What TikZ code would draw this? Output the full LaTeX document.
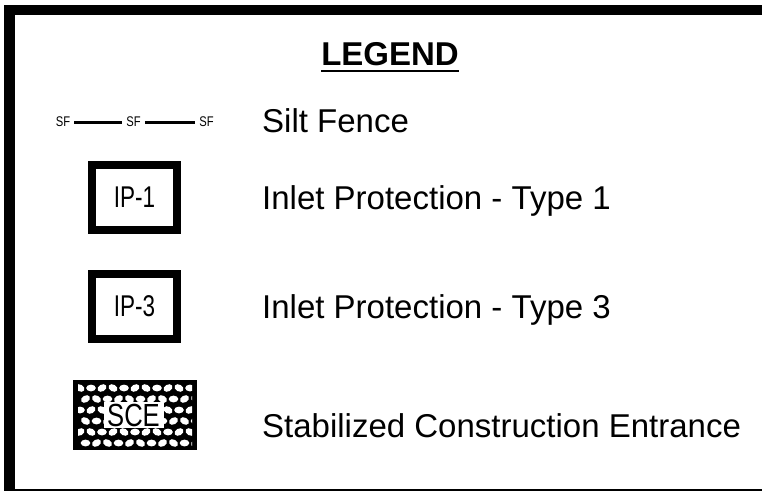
\documentclass[tikz,border=0pt]{standalone}
\usepackage{fontspec}
\setmainfont{Liberation Sans}
\usepackage{graphicx}

\begin{document}
\begin{tikzpicture}[x=1pt,y=-1pt,
  txt/.style={anchor=base west,inner sep=0pt,font=\fontsize{33}{40}\selectfont},
  sflbl/.style={inner sep=4pt,font=\fontsize{14}{16}\selectfont},
  fence/.style={line width=3pt},
  ipbox/.style={rectangle,draw,line width=8pt,minimum width=85pt,minimum height=65pt,inner sep=0pt,font=\fontsize{30}{36}\selectfont},
  pebble/.style={fill=white}
]
\useasboundingbox (0,0) rectangle (762,493);
% frame
\fill (4,5) rectangle (762,15);
\fill (4,5) rectangle (15,491);
\draw[line width=1.5pt] (4,490) -- (762,490);
% title
\node[anchor=base,inner sep=0pt,font=\bfseries\fontsize{33}{40}\selectfont] (title) at (390,65) {LEGEND};
\draw[line width=2.5pt] ([yshift=-6pt]title.base west) -- ([yshift=-6pt]title.base east);
% silt fence
\node[sflbl] (sf1) at (63,122) {\scalebox{0.8}[1]{SF}};
\node[sflbl] (sf2) at (133.5,122) {\scalebox{0.8}[1]{SF}};
\node[sflbl] (sf3) at (206.5,122) {\scalebox{0.8}[1]{SF}};
\draw[fence] (sf1) -- (sf2);
\draw[fence] (sf2) -- (sf3);
\node[txt] (lsf) at (262,132) {Silt Fence};
% inlet protection
\node[ipbox] (ip1) at (134.5,197.5) {\scalebox{0.75}[1]{IP-1}};
\node[txt] (lip1) at (262,209) {Inlet Protection - Type 1};
\node[ipbox] (ip3) at (134.5,306) {\scalebox{0.75}[1]{IP-3}};
\node[txt] (lip3) at (262,318) {Inlet Protection - Type 3};
% construction entrance
\fill (73,380) rectangle (197,450);
\begin{scope}
\clip (78,384) rectangle (192,446);
\foreach \r in {0,...,5}{
  \foreach \c in {0,...,10}{
    \pgfmathsetmacro{\px}{80+\c*11+mod(\r,2)*5.5}
    \pgfmathsetmacro{\py}{388+\r*11}
    \pgfmathsetmacro{\ang}{mod(\c+2*\r,3)*30-30}
    \fill[pebble,rotate around={\ang:(\px,\py)}] (\px,\py) ellipse [x radius=4.8pt,y radius=3.4pt];
  }
}
\end{scope}
\node[fill=white,minimum width=60pt,minimum height=26pt,inner sep=0pt,font=\fontsize{32}{38}\selectfont] (sce) at (133.5,415) {\scalebox{0.8}[1]{SCE}};
\node[txt] (lsce) at (262,437) {Stabilized Construction Entrance};
\end{tikzpicture}
\end{document}
